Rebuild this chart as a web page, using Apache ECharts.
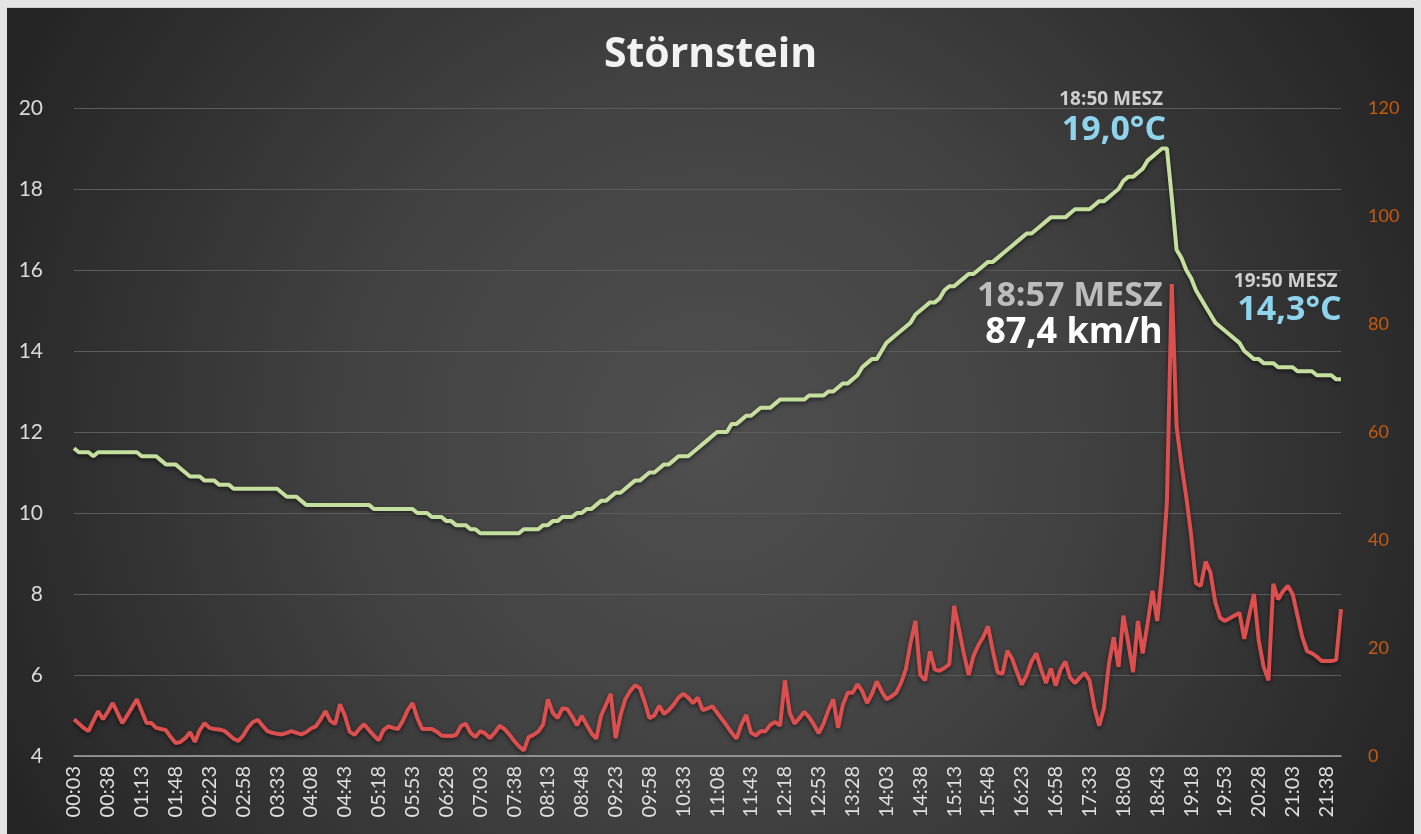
<!DOCTYPE html>
<html>
<head>
<meta charset="utf-8">
<title>Störnstein</title>
<script src="https://cdn.jsdelivr.net/npm/echarts@6/dist/echarts.min.js"></script>
<style>
  html, body {
    margin: 0;
    padding: 0;
    background: #e4e4e4;
    overflow: hidden;
  }
  #chartBox {
    position: absolute;
    left: 7px;
    top: 7px;
    width: 1407px;
    height: 827px;
    border-top: 1px solid #cfcfcf;
  }
</style>
</head>
<body>
<div id="chartBox"></div>
<script>
  // Zeitachse: Start 00:03, alle 5 Minuten ein Messwert
  var startMinute = 3;
  var stepMinutes = 5;
  var pointCount = 263;

  // Temperatur in °C (linke Achse)
  var temperature = [
    11.6, 11.5, 11.5, 11.5, 11.4, 11.5, 11.5, 11.5, 11.5, 11.5,
    11.5, 11.5, 11.5, 11.5, 11.4, 11.4, 11.4, 11.4, 11.3, 11.2,
    11.2, 11.2, 11.1, 11.0, 10.9, 10.9, 10.9, 10.8, 10.8, 10.8,
    10.7, 10.7, 10.7, 10.6, 10.6, 10.6, 10.6, 10.6, 10.6, 10.6,
    10.6, 10.6, 10.6, 10.5, 10.4, 10.4, 10.4, 10.3, 10.2, 10.2,
    10.2, 10.2, 10.2, 10.2, 10.2, 10.2, 10.2, 10.2, 10.2, 10.2,
    10.2, 10.2, 10.1, 10.1, 10.1, 10.1, 10.1, 10.1, 10.1, 10.1,
    10.1, 10.0, 10.0, 10.0, 9.9, 9.9, 9.9, 9.8, 9.8, 9.7,
    9.7, 9.7, 9.6, 9.6, 9.5, 9.5, 9.5, 9.5, 9.5, 9.5,
    9.5, 9.5, 9.5, 9.6, 9.6, 9.6, 9.6, 9.7, 9.7, 9.8,
    9.8, 9.9, 9.9, 9.9, 10.0, 10.0, 10.1, 10.1, 10.2, 10.3,
    10.3, 10.4, 10.5, 10.5, 10.6, 10.7, 10.8, 10.8, 10.9, 11.0,
    11.0, 11.1, 11.2, 11.2, 11.3, 11.4, 11.4, 11.4, 11.5, 11.6,
    11.7, 11.8, 11.9, 12.0, 12.0, 12.0, 12.2, 12.2, 12.3, 12.4,
    12.4, 12.5, 12.6, 12.6, 12.6, 12.7, 12.8, 12.8, 12.8, 12.8,
    12.8, 12.8, 12.9, 12.9, 12.9, 12.9, 13.0, 13.0, 13.1, 13.2,
    13.2, 13.3, 13.4, 13.6, 13.7, 13.8, 13.8, 14.0, 14.2, 14.3,
    14.4, 14.5, 14.6, 14.7, 14.9, 15.0, 15.1, 15.2, 15.2, 15.3,
    15.5, 15.6, 15.6, 15.7, 15.8, 15.9, 15.9, 16.0, 16.1, 16.2,
    16.2, 16.3, 16.4, 16.5, 16.6, 16.7, 16.8, 16.9, 16.9, 17.0,
    17.1, 17.2, 17.3, 17.3, 17.3, 17.3, 17.4, 17.5, 17.5, 17.5,
    17.5, 17.6, 17.7, 17.7, 17.8, 17.9, 18.0, 18.2, 18.3, 18.3,
    18.4, 18.5, 18.7, 18.8, 18.9, 19.0, 19.0, 17.8, 16.5, 16.3,
    16.0, 15.8, 15.5, 15.3, 15.1, 14.9, 14.7, 14.6, 14.5, 14.4,
    14.3, 14.2, 14.0, 13.9, 13.8, 13.8, 13.7, 13.7, 13.7, 13.6,
    13.6, 13.6, 13.6, 13.5, 13.5, 13.5, 13.5, 13.4, 13.4, 13.4,
    13.4, 13.3, 13.3
  ];

  // Windböen in km/h (rechte Achse)
  var windGust = [
    6.8, 6.0, 5.2, 4.6, 6.5, 8.3, 6.8, 8.2, 9.8, 8.0,
    6.1, 7.5, 9.0, 10.5, 8.3, 6.1, 6.1, 5.2, 5.0, 4.8,
    3.5, 2.4, 2.6, 3.3, 4.4, 2.6, 4.8, 6.1, 5.2, 5.0,
    4.9, 4.7, 4.0, 3.2, 2.8, 3.8, 5.3, 6.3, 6.7, 5.6,
    4.6, 4.3, 4.1, 4.0, 4.3, 4.6, 4.3, 4.0, 4.4, 5.1,
    5.5, 6.8, 8.3, 6.5, 5.9, 9.6, 7.5, 4.5, 3.9, 5.0,
    5.9, 4.8, 3.8, 2.9, 4.8, 5.5, 5.2, 5.0, 6.5, 8.5,
    9.8, 7.0, 5.0, 5.0, 5.0, 4.5, 3.8, 3.7, 3.7, 3.9,
    5.5, 6.0, 4.3, 3.5, 4.6, 4.2, 3.3, 4.3, 5.6, 5.0,
    4.0, 2.8, 1.8, 1.0, 3.5, 3.9, 4.5, 5.8, 10.5, 8.0,
    7.0, 8.8, 8.7, 7.3, 5.7, 7.4, 5.8, 4.2, 3.2, 7.5,
    9.5, 11.5, 3.3, 7.5, 10.5, 12.0, 13.1, 12.6, 10.0, 7.0,
    7.5, 9.3, 7.8, 8.5, 9.5, 10.8, 11.5, 10.8, 9.8, 10.8,
    8.5, 8.8, 9.2, 8.0, 6.8, 5.6, 4.3, 3.2, 5.8, 7.6,
    4.3, 3.8, 4.6, 4.6, 5.8, 6.3, 5.6, 14.0, 8.0, 6.0,
    7.0, 8.2, 7.2, 5.8, 4.2, 6.0, 8.5, 10.5, 5.2, 9.5,
    11.7, 11.7, 13.3, 12.0, 9.8, 11.5, 13.8, 12.0, 10.5, 11.0,
    11.7, 13.5, 16.0, 21.0, 25.0, 15.0, 14.0, 19.4, 16.0, 15.8,
    16.3, 17.0, 27.8, 23.5, 19.0, 15.0, 18.5, 20.5, 22.0, 24.0,
    19.5, 15.5, 15.2, 19.5, 18.0, 15.5, 13.2, 15.0, 17.5, 19.0,
    16.0, 13.5, 16.2, 13.0, 16.0, 17.5, 14.5, 13.5, 14.5, 15.4,
    14.0, 9.0, 5.6, 9.0, 17.0, 22.0, 16.5, 26.0, 21.0, 15.5,
    25.0, 19.0, 24.5, 30.6, 25.0, 34.0, 47.0, 87.4, 61.0, 54.0,
    48.0, 41.0, 32.0, 31.5, 36.0, 34.0, 28.5, 25.6, 25.0, 25.5,
    26.0, 26.5, 21.7, 26.0, 30.0, 21.3, 16.5, 14.0, 31.9, 29.0,
    30.5, 31.5, 30.0, 26.0, 22.0, 19.4, 19.0, 18.4, 17.6, 17.6,
    17.6, 17.8, 27.2
  ];

  // Achsen
  var tempTicks = {min: 4, max: 20, interval: 2};
  var windTicks = {min: 0, max: 120, interval: 20};
  var labelEvery = 7;

  // Markierungen: [Index, Wert, Zeit, Text]
  var tempMaxMark = [225, 19.0, '18:50 MESZ', '19,0°C'];
  var tempLastMark = [240, 14.3, '19:50 MESZ', '14,3°C'];
  var gustMark = [227, 87.4, '18:57 MESZ', '87,4 km/h'];

  function pad (n) {
    return (n < 10 ? '0' : '') + n;
  }

  var times = [];
  for (var i = 0; i < pointCount; i++) {
    var m = startMinute + i * stepMinutes;
    times.push(pad(Math.floor(m / 60)) + ':' + pad(m % 60));
  }

  var chart = echarts.init(document.getElementById('chartBox'));

  function markLabel (mark, text, style) {
    return {
      coord: [mark[0], mark[1]],
      symbol: 'circle',
      symbolSize: 0,
      label: Object.assign({
        show: true,
        position: 'inside',
        formatter: text,
        align: 'right',
        fontFamily: '"Open Sans", sans-serif'
      }, style)
    };
  }

  var option = {
    animation: false,
    backgroundColor: {
      type: 'radial',
      x: 0.5,
      y: 0.52,
      r: 0.95,
      colorStops: [
        {offset: 0, color: '#4f4f4f'},
        {offset: 0.45, color: '#424242'},
        {offset: 1, color: '#252525'}
      ]
    },
    title: {
      text: 'Störnstein',
      left: 'center',
      top: 22,
      textStyle: {
        color: '#f2f2f2',
        fontSize: 41,
        fontWeight: 'bold',
        fontFamily: '"Open Sans", sans-serif'
      }
    },
    grid: {
      left: 67,
      right: 73,
      top: 100,
      bottom: 79
    },
    xAxis: {
      type: 'category',
      data: times,
      boundaryGap: false,
      axisLine: {
        onZero: false,
        lineStyle: {color: '#a6a6a6', width: 1.5}
      },
      axisTick: {show: false},
      axisLabel: {
        interval: labelEvery - 1,
        rotate: 90,
        margin: 10,
        color: '#e0e0e0',
        fontSize: 20,
        fontFamily: 'Lato, sans-serif'
      }
    },
    yAxis: [
      {
        type: 'value',
        min: tempTicks.min,
        max: tempTicks.max,
        interval: tempTicks.interval,
        axisLine: {show: false},
        axisTick: {show: false},
        splitLine: {lineStyle: {color: '#5c5c5c', width: 1}},
        axisLabel: {
          margin: 31,
          color: '#d9d9d9',
          fontSize: 21,
          fontFamily: 'Lato, sans-serif'
        }
      },
      {
        type: 'value',
        min: windTicks.min,
        max: windTicks.max,
        interval: windTicks.interval,
        axisLine: {show: false},
        axisTick: {show: false},
        splitLine: {show: false},
        axisLabel: {
          margin: 27,
          color: '#c55a11',
          fontSize: 18,
          fontFamily: 'Lato, sans-serif'
        }
      }
    ],
    series: [
      {
        name: 'Temperatur',
        type: 'line',
        yAxisIndex: 0,
        data: temperature,
        showSymbol: false,
        lineStyle: {
          color: '#c5df9f',
          width: 4,
          shadowColor: 'rgba(0,0,0,0.55)',
          shadowBlur: 4,
          shadowOffsetY: 2
        },
        z: 3,
        markPoint: {
          silent: true,
          data: [
            markLabel(tempMaxMark, tempMaxMark[2], {
              verticalAlign: 'bottom', offset: [1, -39],
              fontSize: 19, fontWeight: 'bold', color: '#cfcfcf'
            }),
            markLabel(tempMaxMark, tempMaxMark[3], {
              verticalAlign: 'bottom', offset: [4, -1],
              fontSize: 34, fontWeight: 'bold', color: '#8fd3ec'
            }),
            markLabel(tempLastMark, tempLastMark[2], {
              verticalAlign: 'bottom', offset: [103, -48],
              fontSize: 19, fontWeight: 'bold', color: '#cfcfcf'
            }),
            markLabel(tempLastMark, tempLastMark[3], {
              verticalAlign: 'bottom', offset: [107, -12],
              fontSize: 34, fontWeight: 'bold', color: '#8fd3ec'
            })
          ]
        }
      },
      {
        name: 'Böen',
        type: 'line',
        yAxisIndex: 1,
        data: windGust,
        showSymbol: false,
        lineStyle: {
          color: '#db4f4f',
          width: 4,
          shadowColor: 'rgba(0,0,0,0.55)',
          shadowBlur: 4,
          shadowOffsetY: 2
        },
        z: 4,
        markPoint: {
          silent: true,
          data: [
            markLabel(gustMark, gustMark[2], {
              verticalAlign: 'top', offset: [-9, -5],
              fontSize: 34, fontWeight: 'bold', color: '#bdbdbd'
            }),
            markLabel(gustMark, gustMark[3], {
              verticalAlign: 'top', offset: [-9, 31],
              fontSize: 36, fontWeight: 'bold', color: '#ffffff'
            })
          ]
        }
      }
    ]
  };

  chart.setOption(option);
</script>
</body>
</html>
